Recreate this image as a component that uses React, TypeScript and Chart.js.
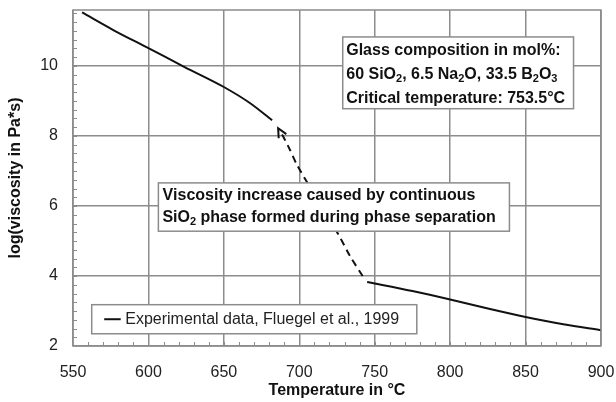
import React, { useEffect, useRef } from 'react';
import { Chart, registerables } from 'chart.js';

Chart.register(...registerables);

// ---- data ----
const xTicks = [550, 600, 650, 700, 750, 800, 850, 900];
const yTicks = [2, 4, 6, 8, 10];
const upperT = [556, 577, 600, 624, 650, 667, 682];
const upperV = [11.53, 11.02, 10.51, 9.97, 9.4, 8.95, 8.45];
const lowerT = [745, 775, 800, 825, 850, 875, 900];
const lowerV = [3.83, 3.57, 3.33, 3.07, 2.83, 2.62, 2.45];
const dashT = [742, 734, 725, 705, 698, 694, 689.5, 686];
const dashV = [4.0, 4.54, 5.26, 6.69, 7.21, 7.59, 7.97, 8.22];

const seriesLabel = 'Experimental data, Fluegel et al., 1999';
const xTitle = 'Temperature in °C';
const yTitle = 'log(viscosity in Pa*s)';
const noteCompLines = ['Glass composition in mol%:', '60 SiO_2, 6.5 Na_2O, 33.5 B_2O_3', 'Critical temperature: 753.5°C'];
const noteViscLines = ['Viscosity increase caused by continuous', 'SiO_2 phase formed during phase separation'];

const FONT = '"Liberation Sans", Arial, sans-serif';
const GRID = '#8c8c8c';
const INK = '#111';

function pts(xs: number[], ys: number[]) {
  return xs.map((x, i) => ({ x, y: ys[i] }));
}

function drawRich(ctx: CanvasRenderingContext2D, text: string, x: number, y: number, size: number, bold: boolean) {
  let cx = x;
  const w = bold ? 'bold ' : '';
  for (let i = 0; i < text.length; i++) {
    const ch = text[i];
    if (ch === '_' && i + 1 < text.length) {
      const s = text[i + 1];
      ctx.font = `${w}${Math.round(size * 0.68)}px ${FONT}`;
      ctx.fillText(s, cx, y + size * 0.28);
      cx += ctx.measureText(s).width;
      i++;
    } else {
      ctx.font = `${w}${size}px ${FONT}`;
      ctx.fillText(ch, cx, y);
      cx += ctx.measureText(ch).width;
    }
  }
}

function box(ctx: CanvasRenderingContext2D, l: number, t: number, r: number, b: number) {
  ctx.save();
  ctx.fillStyle = '#fff';
  ctx.fillRect(l, t, r - l, b - t);
  ctx.strokeStyle = GRID;
  ctx.lineWidth = 1.5;
  ctx.strokeRect(l, t, r - l, b - t);
  ctx.restore();
}

const overlay = {
  id: 'overlay',
  afterDatasetsDraw(chart: any) {
    const { ctx, scales } = chart;
    const x = scales.x, y = scales.y;
    // arrow head at end of dashed path
    const n = dashT.length;
    const tx = x.getPixelForValue(dashT[n - 1]);
    const ty = y.getPixelForValue(dashV[n - 1]);
    const px = x.getPixelForValue(dashT[n - 3]);
    const py = y.getPixelForValue(dashV[n - 3]);
    const ang = Math.atan2(ty - py, tx - px);
    const len = 10;
    ctx.save();
    ctx.strokeStyle = INK;
    ctx.lineWidth = 2;
    ctx.beginPath();
    ctx.moveTo(tx - len * Math.cos(ang - 0.45), ty - len * Math.sin(ang - 0.45));
    ctx.lineTo(tx, ty);
    ctx.lineTo(tx - len * Math.cos(ang + 0.45), ty - len * Math.sin(ang + 0.45));
    ctx.stroke();
    ctx.restore();

    ctx.save();
    ctx.fillStyle = INK;
    ctx.textBaseline = 'middle';
    ctx.textAlign = 'left';
    // composition box
    {
      const l = x.getPixelForValue(728.8), r = x.getPixelForValue(881.8);
      const t = y.getPixelForValue(10.83), b = y.getPixelForValue(8.78);
      box(ctx, l, t, r, b);
      ctx.fillStyle = INK;
      noteCompLines.forEach((s, i) => drawRich(ctx, s, l + 3.5, t + 13.5 + i * 24, 16, true));
    }
    // viscosity box
    {
      const l = x.getPixelForValue(606.6), r = x.getPixelForValue(839.3);
      const t = y.getPixelForValue(6.66), b = y.getPixelForValue(5.28);
      box(ctx, l, t, r, b);
      ctx.fillStyle = INK;
      noteViscLines.forEach((s, i) => drawRich(ctx, s, l + 4, t + 12.5 + i * 21.7, 16, true));
    }
    // legend box
    {
      const l = x.getPixelForValue(562.4), r = x.getPixelForValue(777.9);
      const t = y.getPixelForValue(3.18), b = y.getPixelForValue(2.35);
      box(ctx, l, t, r, b);
      const cy = (t + b) / 2;
      ctx.strokeStyle = INK;
      ctx.lineWidth = 2;
      ctx.beginPath();
      ctx.moveTo(l + 12.5, cy);
      ctx.lineTo(l + 29, cy);
      ctx.stroke();
      ctx.fillStyle = '#222';
      ctx.font = `16px ${FONT}`;
      ctx.fillText(chart.data.datasets[0].label, l + 33.5, cy + 0.5);
    }
    ctx.restore();
  },
  afterDraw(chart: any) {
    const { ctx, chartArea: a, scales } = chart;
    const x = scales.x, y = scales.y;
    ctx.save();
    ctx.strokeStyle = GRID;
    ctx.lineWidth = 1;
    ctx.beginPath();
    for (let v = 2.25; v < 11.6; v += 0.25) {
      const py = Math.round(y.getPixelForValue(v)) + 0.5;
      ctx.moveTo(a.left, py);
      ctx.lineTo(a.left + 4, py);
    }
    for (let v = 560; v < 900; v += 10) {
      const px = Math.round(x.getPixelForValue(v)) + 0.5;
      ctx.moveTo(px, a.bottom);
      ctx.lineTo(px, a.bottom - 4);
    }
    ctx.stroke();
    ctx.lineWidth = 1.5;
    ctx.strokeRect(a.left, a.top, a.right - a.left, a.bottom - a.top);
    // axis titles
    ctx.fillStyle = INK;
    ctx.font = `bold 16px ${FONT}`;
    ctx.textAlign = 'center';
    ctx.textBaseline = 'middle';
    ctx.fillText(xTitle, (a.left + a.right) / 2, 391);
    ctx.translate(16, (a.top + a.bottom) / 2);
    ctx.rotate(-Math.PI / 2);
    ctx.fillText(yTitle, 0, 0);
    ctx.restore();
  },
};

export default function App() {
  const ref = useRef<HTMLCanvasElement>(null);
  useEffect(() => {
    if (!ref.current) return;
    const lineStyle = { borderColor: INK, borderWidth: 2, pointRadius: 0, showLine: true, fill: false };
    const chart = new Chart(ref.current, {
      type: 'scatter',
      data: {
        datasets: [
          { label: seriesLabel, data: pts(upperT, upperV), ...lineStyle, cubicInterpolationMode: 'monotone' },
          { label: seriesLabel, data: pts(lowerT, lowerV), ...lineStyle, cubicInterpolationMode: 'monotone' },
          { label: 'arrow', data: pts(dashT, dashV), ...lineStyle, borderDash: [7, 5], tension: 0.2 },
        ],
      } as any,
      options: {
        responsive: false,
        animation: false,
        layout: { padding: { top: 10, right: 15, left: 0, bottom: 0 } },
        plugins: { legend: { display: false }, tooltip: { enabled: false } },
        scales: {
          x: {
            type: 'linear',
            min: 550,
            max: 900,
            afterBuildTicks: (s: any) => { s.ticks = xTicks.map((v) => ({ value: v })); },
            afterFit: (s: any) => { s.height = 56; s.paddingLeft = 0; s.paddingRight = 0; s.paddingTop = 0; s.paddingBottom = 0; },
            grid: { color: GRID, lineWidth: 1.5, drawTicks: false },
            border: { display: false },
            ticks: { color: '#222', font: { family: FONT, size: 16 }, padding: 17, maxRotation: 0 },
          },
          y: {
            type: 'linear',
            min: 2,
            max: 11.6,
            afterBuildTicks: (s: any) => { s.ticks = yTicks.map((v) => ({ value: v })); },
            afterFit: (s: any) => { s.width = 73; s.paddingLeft = 0; s.paddingRight = 0; s.paddingTop = 0; s.paddingBottom = 0; },
            grid: { color: GRID, lineWidth: 1.5, drawTicks: false },
            border: { display: false },
            ticks: { color: '#222', font: { family: FONT, size: 16 }, padding: 15 },
          },
        },
      } as any,
      plugins: [overlay],
    });
    return () => chart.destroy();
  }, []);
  return (
    <div style={{ position: 'absolute', left: 0, top: 0, width: 616, height: 402, background: '#fff' }}>
      <canvas ref={ref} width={616} height={402} style={{ display: 'block' }} />
    </div>
  );
}
